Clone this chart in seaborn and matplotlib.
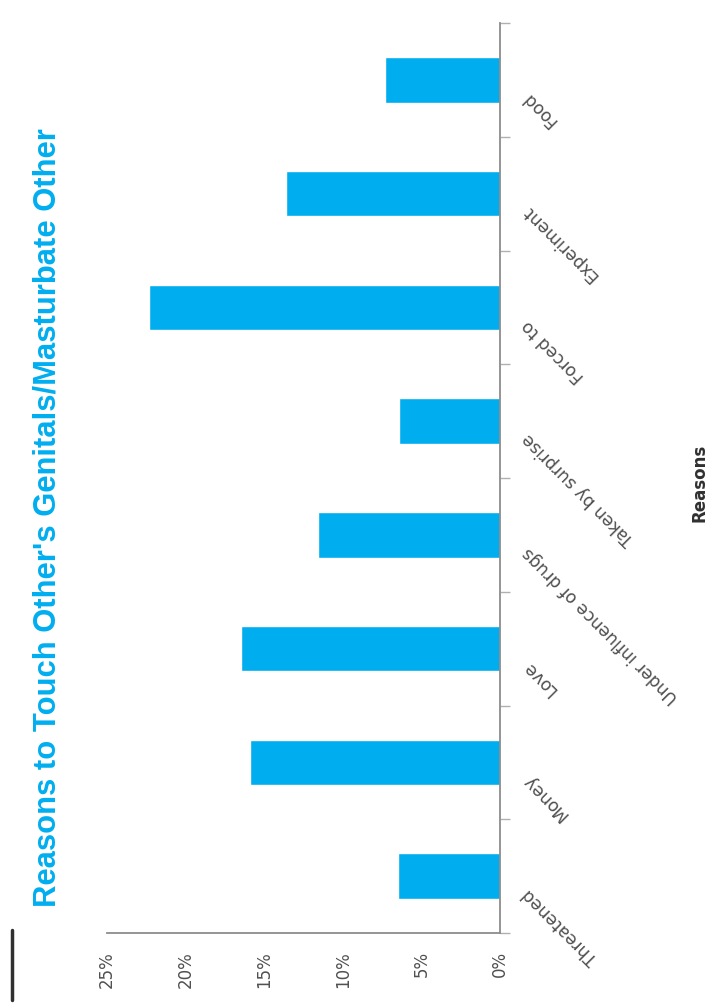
import numpy as np
import pandas as pd
import seaborn as sns
import matplotlib.pyplot as plt
from matplotlib.lines import Line2D
from matplotlib.ticker import PercentFormatter
from matplotlib.transforms import ScaledTranslation

# categories in the order of the original (bottom to top here)
reasons = ["Threatened", "Money", "Love", "Under influence of drugs",
           "Taken by surprise", "Forced to", "Experiment", "Food"]
percent = [6.5, 15.9, 16.5, 11.6, 6.4, 22.3, 13.6, 7.3]
value_ticks = [0, 5, 10, 15, 20, 25]

title = "Reasons to Touch Other's Genitals/Masturbate Other"
blue = "#00AEEF"
grey = "#505050"

df = pd.DataFrame({"reason": reasons, "percent": percent})

sns.set_style("white")
plt.rcParams["font.family"] = ["DejaVu Sans"]

fig = plt.figure(figsize=(7.1, 10.05), dpi=100)
ax = fig.add_axes([0.1507, 0.0716, 0.5535, 0.9055])

sns.barplot(data=df, x="percent", y="reason", orient="h",
            order=reasons[::-1], color=blue, saturation=1,
            width=0.4, ax=ax)

# zero on the right, Food at the top
ax.set_xlim(25, 0)
ax.set_ylim(len(reasons) - 0.5, -0.5)

# value axis along the bottom
ax.set_xticks(value_ticks)
ax.xaxis.set_major_formatter(PercentFormatter(xmax=100, decimals=0))
ax.tick_params(axis="x", length=5, width=1, color="#c8c8c8",
               labelsize=12, labelcolor=grey, labelrotation=90, pad=8)
ax.set_xlabel("")

# category axis on the right
ax.yaxis.tick_right()
ax.set_yticks(np.arange(len(reasons)))
ax.set_yticklabels(reasons[::-1])
ax.set_yticks(np.arange(len(reasons) + 1) - 0.5, minor=True)
ax.tick_params(axis="y", which="major", length=0, pad=18,
               labelsize=12.3, labelcolor=grey)
ax.tick_params(axis="y", which="minor", length=7, width=1,
               color="#b0b0b0", right=True, left=False)
shift = ScaledTranslation(0, -0.15, fig.dpi_scale_trans)
for lab in ax.get_yticklabels():
    lab.set_rotation(135)
    lab.set_rotation_mode("anchor")
    lab.set_ha("right")
    lab.set_va("center")
    lab.set_transform(lab.get_transform() + shift)
ax.set_ylabel("")

for side in ["left", "top"]:
    ax.spines[side].set_visible(False)
for side in ["right", "bottom"]:
    ax.spines[side].set_color("#8c8c8c")
    ax.spines[side].set_linewidth(1.3)

fig.text(48 / 710, 1 - 518 / 1005, title, rotation=90, ha="center",
         va="center", color=blue, fontsize=22.3, fontweight="bold",
         family=["Liberation Sans", "DejaVu Sans"])
fig.text(700 / 710, 1 - 483 / 1005, "Reasons", rotation=90, ha="center",
         va="center", color="#303030", fontsize=12, fontweight="bold")

# small dark stroke in the lower left corner of the source image
fig.add_artist(Line2D([12 / 710, 12 / 710], [1 - 930 / 1005, 1 - 1000 / 1005],
                      color="#303030", linewidth=2.5))

fig.savefig("out.png", dpi=100)
